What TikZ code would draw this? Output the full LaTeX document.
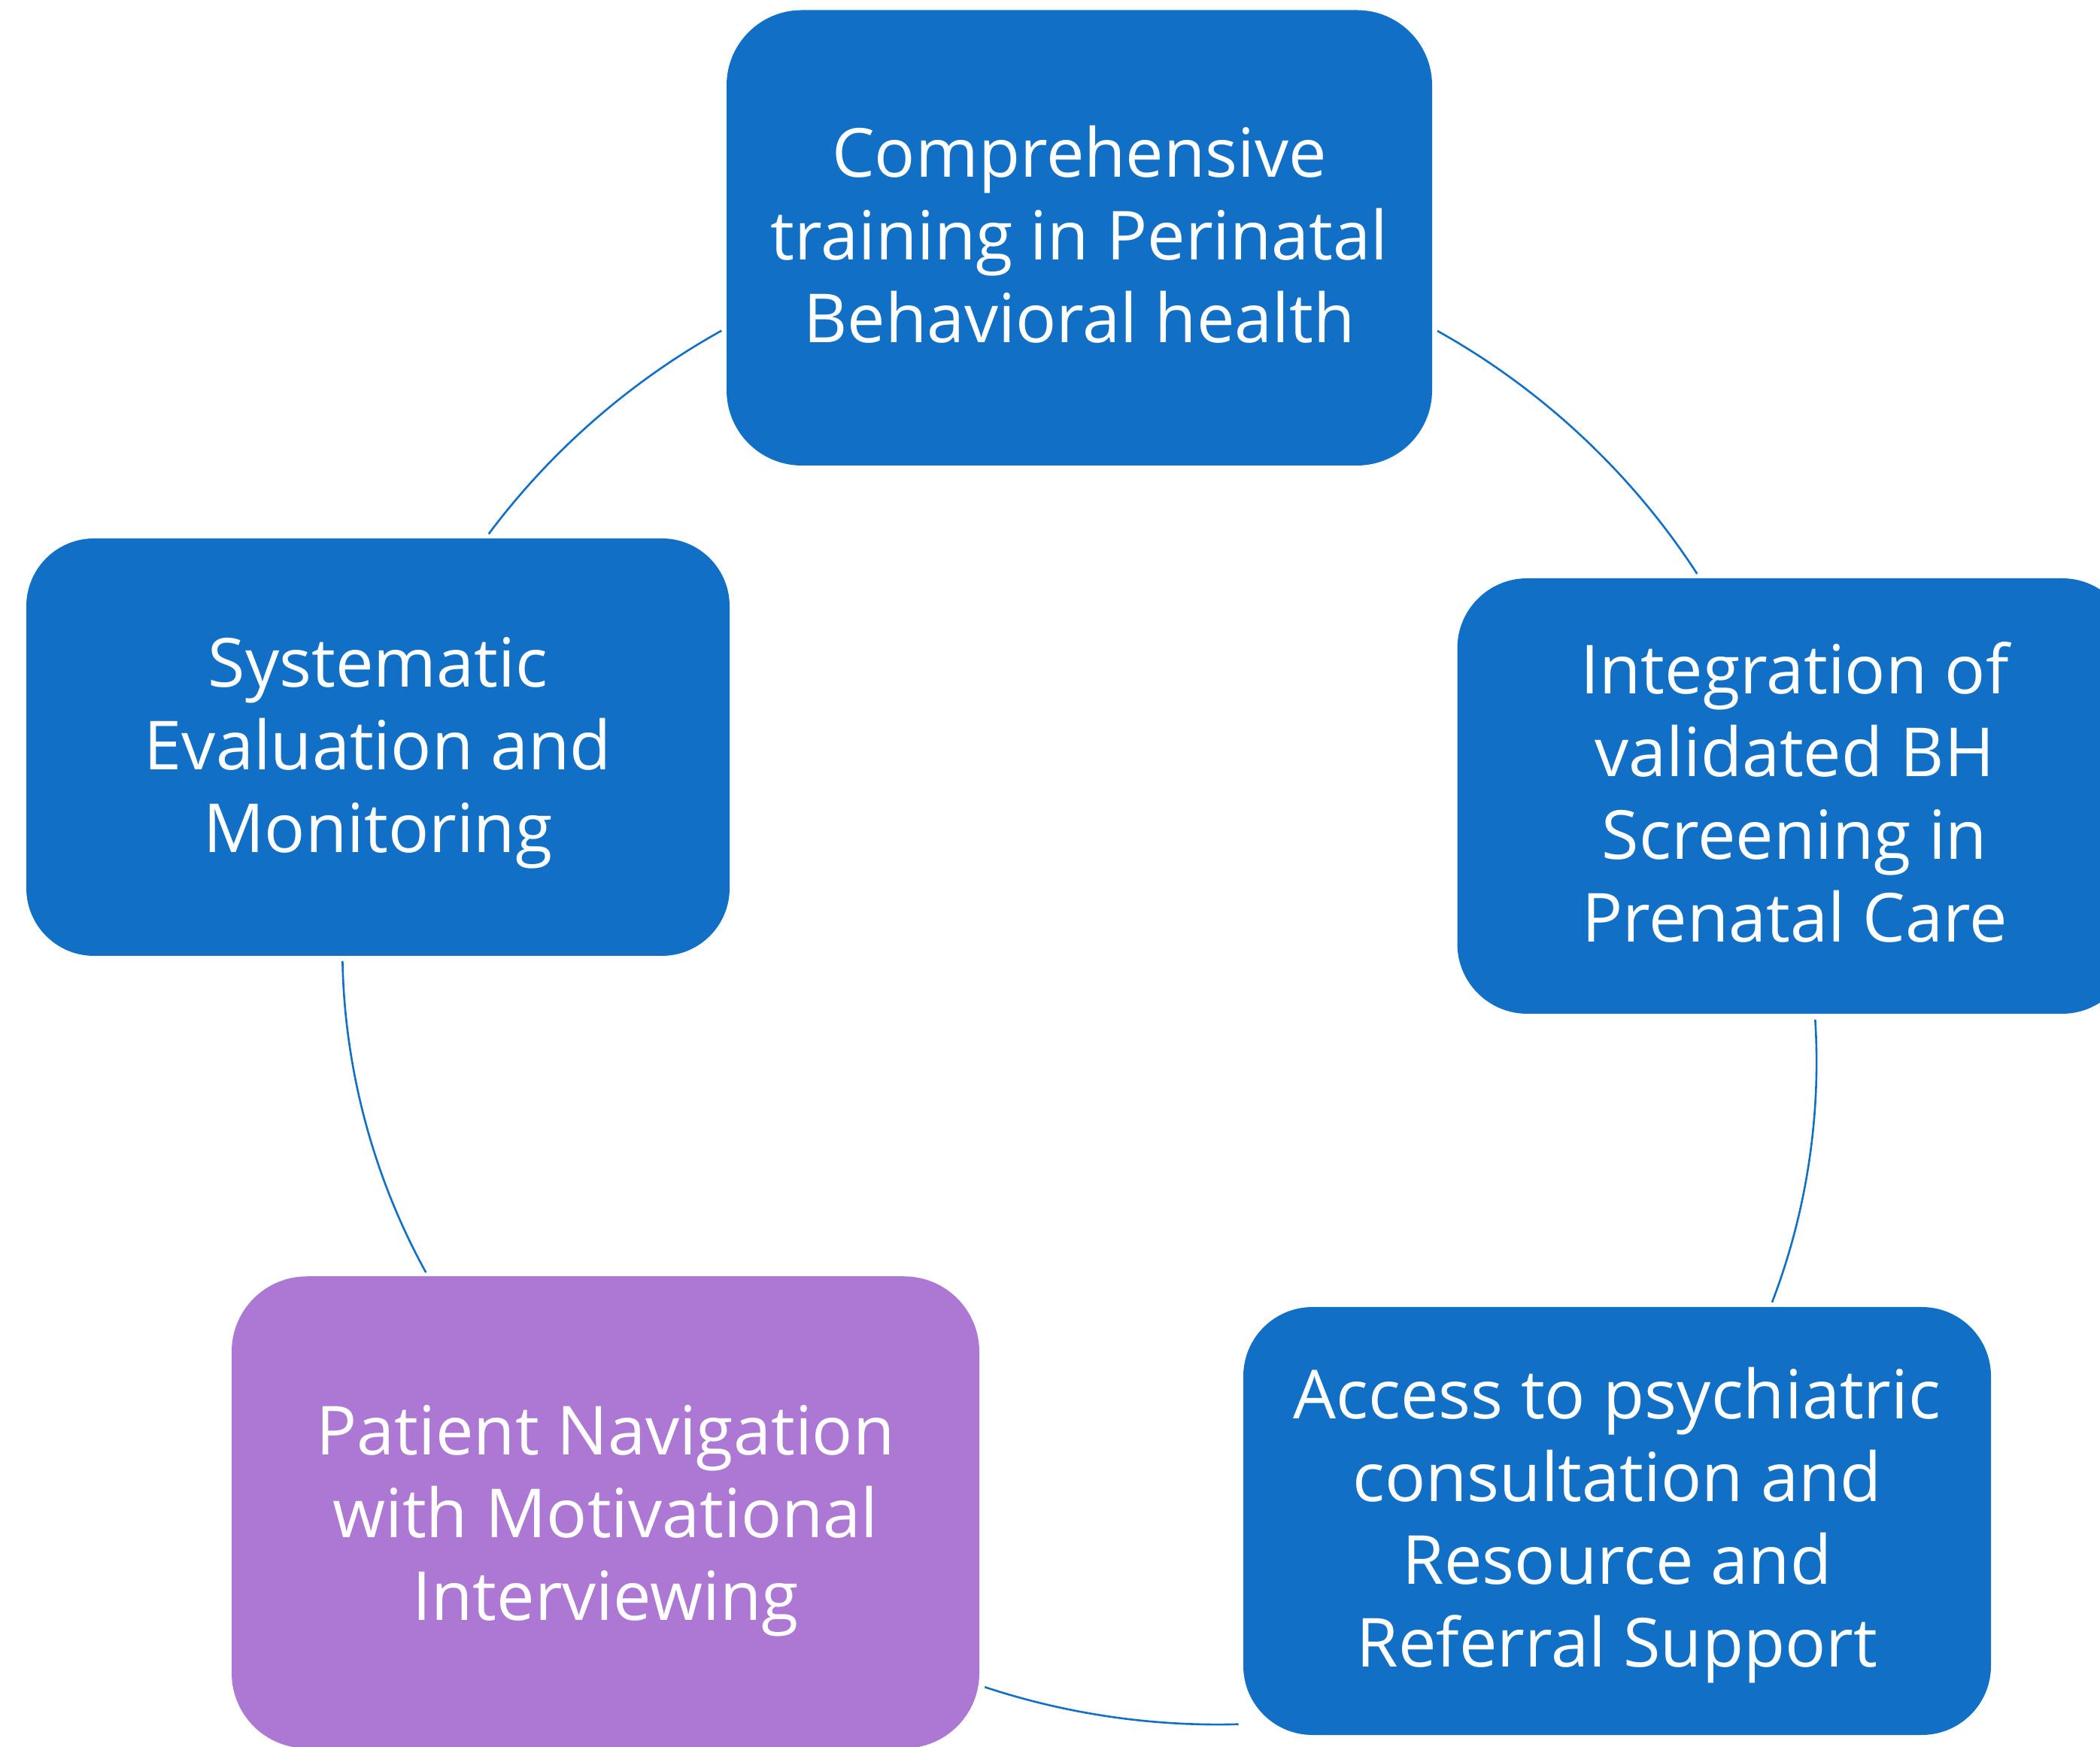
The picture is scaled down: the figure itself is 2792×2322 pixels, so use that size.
\documentclass[tikz,border=0pt]{standalone}
\usepackage{fontspec}
\setmainfont{Open Sans}
\definecolor{boxblue}{HTML}{1170C5}
\definecolor{boxpurple}{HTML}{AD77D4}
\begin{document}
\begin{tikzpicture}[x=0.25pt,y=0.25pt,
  cyclebox/.style={rectangle, fill=boxblue, draw=none, inner sep=0pt, align=center,
    text=white, text depth=2.5pt, font=\fontsize{22.5pt}{27.5pt}\selectfont},
  link/.style={draw=boxblue, line width=0.65pt, looseness=0.86}]
\useasboundingbox (0,0) rectangle (2792,2322);
\clip (0,0) rectangle (2792,2322);
\fill[white] (0,0) rectangle (2792,2322);

\node[cyclebox, minimum width=234.5pt, minimum height=151.375pt, rounded corners=25pt]
  (comp) at (1435,2005.75) {Comprehensive\\training in Perinatal\\Behavioral health};
\node[cyclebox, minimum width=224.25pt, minimum height=144.75pt, rounded corners=23.25pt]
  (integ) at (2386,1263.5) {Integration of\\validated BH\\Screening in\\Prenatal Care};
\node[cyclebox, minimum width=248.5pt, minimum height=142.25pt, rounded corners=23pt]
  (access) at (2150,299.5) {Access to psychiatric\\consultation and\\Resource and\\Referral Support};
\node[cyclebox, fill=boxpurple, text depth=0pt, minimum width=248.5pt, minimum height=156.875pt, rounded corners=25pt]
  (patient) at (805,311) {Patient Navigation\\with Motivational\\Interviewing};
\node[cyclebox, text depth=1.5pt, minimum width=233.75pt, minimum height=138.75pt, rounded corners=22.5pt]
  (system) at (502.5,1328.5) {Systematic\\Evaluation and\\Monitoring};

% connector end points (just outside the boxes)
\coordinate (c1a) at (959.3,1882.3);
\coordinate (c1b) at (649.7,1612);
\coordinate (c2a) at (1911,1882);
\coordinate (c2b) at (2256.3,1559);
\coordinate (c3a) at (2413.3,966.3);
\coordinate (c3b) at (2356,590.3);
\coordinate (c4a) at (1309.3,78.7);
\coordinate (c4b) at (1646.7,29.3);
\coordinate (c5a) at (455.4,1044);
\coordinate (c5b) at (566.3,630);

\draw[link] (c1a) to[bend right=12.07] (c1b);
\draw[link] (c2a) to[bend left=13.95] (c2b);
\draw[link] (c3a) to[bend left=12.35] (c3b);
\draw[link] (c4a) to[bend right=9.95] (c4b);
\draw[link] (c5a) to[bend right=13.94] (c5b);
\end{tikzpicture}
\end{document}
